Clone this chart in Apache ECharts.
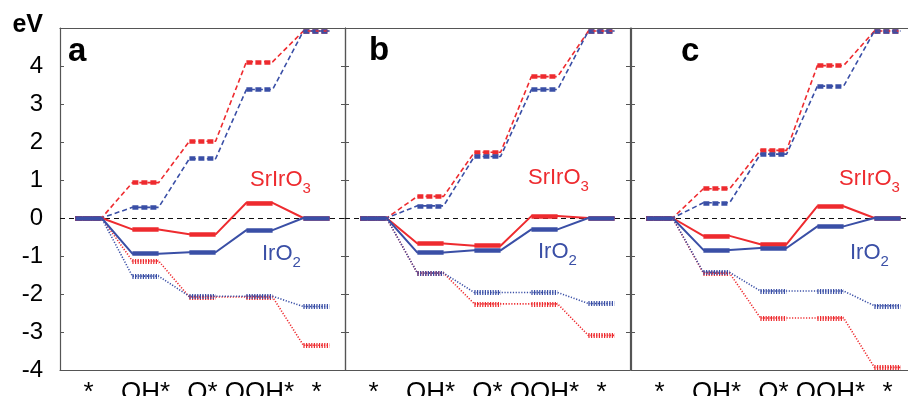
<!DOCTYPE html>
<html>
<head>
<meta charset="utf-8">
<script src="https://cdn.jsdelivr.net/npm/echarts@6/dist/echarts.min.js"></script>
<style>
  html, body { margin: 0; padding: 0; background: #fff; }
  #chart { width: 908px; height: 396px; }
</style>
</head>
<body>
<div id="chart"></div>
<script>
// reaction steps on the x axis
const states = ['*', 'OH*', 'O*', 'OOH*', '*'];

// panel a  (eq = solid, zero = dashed, lim = dotted)
const srA_eq   = [0, -0.30, -0.43, 0.40, 0];
const irA_eq   = [0, -0.94, -0.90, -0.32, 0];
const srA_zero = [0, 0.93, 2.02, 4.11, 4.92];
const irA_zero = [0, 0.28, 1.56, 3.38, 4.92];
const srA_lim  = [0, -1.13, -2.08, -2.08, -3.35];
const irA_lim  = [0, -1.53, -2.06, -2.06, -2.33];

// panel b
const srB_eq   = [0, -0.67, -0.73, 0.05, 0];
const irB_eq   = [0, -0.91, -0.85, -0.30, 0];
const srB_zero = [0, 0.57, 1.73, 3.72, 4.92];
const irB_zero = [0, 0.32, 1.62, 3.38, 4.92];
const srB_lim  = [0, -1.45, -2.26, -2.26, -3.09];
const irB_lim  = [0, -1.45, -1.96, -1.96, -2.25];

// panel c
const srC_eq   = [0, -0.47, -0.69, 0.31, 0];
const irC_eq   = [0, -0.84, -0.79, -0.22, 0];
const srC_zero = [0, 0.77, 1.78, 4.01, 4.92];
const irC_zero = [0, 0.40, 1.68, 3.47, 4.92];
const srC_lim  = [0, -1.45, -2.63, -2.63, -3.93];
const irC_lim  = [0, -1.43, -1.92, -1.92, -2.31];

const panels = [
  { letter: 'a', sr: [srA_lim, srA_zero, srA_eq], ir: [irA_lim, irA_zero, irA_eq] },
  { letter: 'b', sr: [srB_lim, srB_zero, srB_eq], ir: [irB_lim, irB_zero, irB_eq] },
  { letter: 'c', sr: [srC_lim, srC_zero, srC_eq], ir: [irC_lim, irC_zero, irC_eq] }
];

const RED = '#ee2b2f';
const BLUE = '#3a4fa6';
const FONT = '"Liberation Sans", Arial, sans-serif';
const HW = 0.23; // half width of an energy level

// line styles: dotted, dashed, solid
const kinds = [
  { thin: 1.6, thinType: [1.2, 1.6], thick: 5, thickType: [1.2, 1.4] },
  { thin: 1.6, thinType: [5, 3], thick: 4.5, thickType: [6, 3] },
  { thin: 2, thinType: 'solid', thick: 4.5, thickType: 'solid' }
];

const chart = echarts.init(document.getElementById('chart'));

const grids = [];
const xAxes = [];
const yAxes = [];
const series = [];

const gridLeft = [60, 345, 631];

function levelSeries(values, g, color, k) {
  const st = kinds[k];
  const path = [];
  const segs = [];
  values.forEach((v, i) => {
    path.push([i - HW, v], [i + HW, v]);
    segs.push({ coords: [[i - HW, v], [i + HW, v]] });
  });
  return [
    {
      type: 'line', xAxisIndex: g * 3 + 2, yAxisIndex: g * 2,
      data: path, symbol: 'none', silent: true,
      lineStyle: { color: color, width: st.thin, type: st.thinType },
      z: 3 + k
    },
    {
      type: 'lines', coordinateSystem: 'cartesian2d',
      xAxisIndex: g * 3 + 2, yAxisIndex: g * 2,
      data: segs, silent: true,
      lineStyle: { color: color, width: st.thick, type: st.thickType, opacity: 1, curveness: 0 },
      z: 3 + k
    }
  ];
}

panels.forEach((p, g) => {
  grids.push({ left: gridLeft[g], top: 28, width: 285, height: 342, outerBoundsMode: 'none', containLabel: false });

  const catAxis = (pos) => ({
    type: 'category', gridIndex: g, position: pos,
    data: ['0', '1', '2', '3', '4'],
    boundaryGap: true,
    axisLine: { onZero: false, lineStyle: { color: '#555', width: 1.2 } },
    axisTick: { inside: true, alignWithLabel: true, length: 4, lineStyle: { color: '#555' } },
    axisLabel: {
      show: pos === 'bottom', interval: 0, margin: 10,
      color: '#000', fontSize: 26, fontFamily: FONT,
      formatter: v => states[+v]
    },
    splitLine: { show: false }
  });
  xAxes.push(catAxis('bottom'), catAxis('top'));
  xAxes.push({ type: 'value', gridIndex: g, min: -0.5, max: 4.5, show: false });

  const valAxis = (pos) => ({
    type: 'value', gridIndex: g, position: pos,
    min: -4, max: 5, interval: 1,
    axisLine: { show: true, onZero: false, lineStyle: { color: '#555', width: 1.2 } },
    axisTick: { show: true, inside: true, length: 4, lineStyle: { color: '#555' } },
    axisLabel: {
      show: g === 0 && pos === 'left', margin: 17,
      color: '#000', fontSize: 24, fontFamily: FONT,
      formatter: v => v === 5 ? '{ev|eV}' : String(v),
      rich: { ev: { fontSize: 25, fontWeight: 'bold', color: '#000', fontFamily: FONT, padding: [0, 0, 6, 0] } }
    },
    splitLine: { show: false }
  });
  yAxes.push(valAxis('left'), valAxis('right'));

  // zero reference line
  series.push({
    type: 'line', xAxisIndex: g * 3 + 2, yAxisIndex: g * 2, data: [], silent: true,
    markLine: {
      symbol: 'none', silent: true, label: { show: false },
      lineStyle: { color: '#111', width: 1.2, type: [5, 4] },
      data: [{ yAxis: 0 }]
    },
    z: 2
  });

  for (let k = 0; k < 3; k++) {
    series.push(...levelSeries(p.sr[k], g, RED, k));
    series.push(...levelSeries(p.ir[k], g, BLUE, k));
  }
});

// text labels
const letterPos = [[68, 35], [369, 34], [681, 35]];
const srPos = [[250, 169], [528, 167], [839, 168]];
const irPos = [[262, 243], [538, 241], [850, 242]];
const graphic = [];
panels.forEach((p, g) => {
  graphic.push({
    type: 'text', left: letterPos[g][0], top: letterPos[g][1],
    style: { text: p.letter, fill: '#000', font: 'bold 33px ' + FONT }
  });
  const rich = (color) => ({
    m: { fontSize: 22, lineHeight: 22, fill: color, fontFamily: FONT, verticalAlign: 'top' },
    s: { fontSize: 15, lineHeight: 15, fill: color, fontFamily: FONT, verticalAlign: 'top', padding: [12, 0, 0, 0] }
  });
  graphic.push({
    type: 'text', left: srPos[g][0], top: srPos[g][1],
    style: { text: '{m|SrIrO}{s|3}', rich: rich(RED) }
  });
  graphic.push({
    type: 'text', left: irPos[g][0], top: irPos[g][1],
    style: { text: '{m|IrO}{s|2}', rich: rich(BLUE) }
  });
});

chart.setOption({
  animation: false,
  textStyle: { fontFamily: FONT },
  grid: grids,
  xAxis: xAxes,
  yAxis: yAxes,
  series: series,
  graphic: graphic
});
</script>
</body>
</html>
